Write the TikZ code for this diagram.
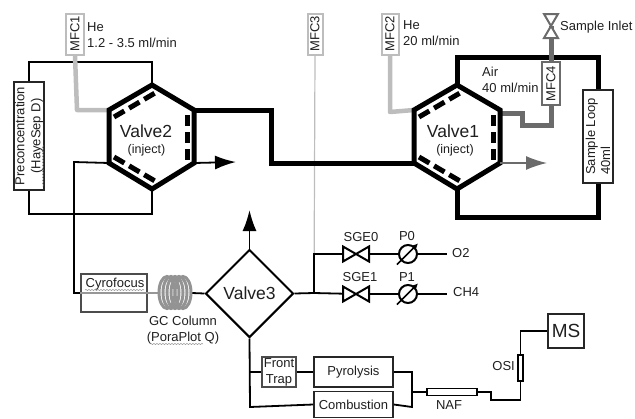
\documentclass[tikz,border=0pt]{standalone}
\usepackage{fontspec}
\setmainfont{Liberation Sans}
\usetikzlibrary{shapes.geometric,arrows.meta,decorations.pathmorphing}
\definecolor{lg}{gray}{0.74}
\definecolor{mg}{gray}{0.42}
\definecolor{tx}{gray}{0.12}
\tikzset{
  x=1pt,y=-1pt,
  every node/.style={inner sep=0pt,text=tx},
  lab/.style={font=\fontsize{13}{16}\selectfont,align=left},
  thin line/.style={draw=black,line width=1.8pt,line join=miter},
  thick line/.style={draw=black,line width=5pt,line join=miter},
  box/.style={draw=black!85,line width=1.6pt,fill=white,font=\fontsize{13}{15}\selectfont,align=center},
  mfc/.style={box,draw=lg,line width=2pt,rotate=90},
  hexa/.style={draw=black,line width=5pt,line join=miter,fill=white},
  dashline/.style={draw=black,line width=5pt,dash pattern=on 12pt off 5.5pt},
  dashlinev/.style={draw=black,line width=5pt,dash pattern=on 11pt off 6pt},
  bigtip/.style={-{Latex[length=21pt,width=14pt]}},
  squig/.style={draw=mg,line width=0.4pt,decorate,decoration={snake,amplitude=0.5pt,segment length=3pt}},
  valvename/.style={font=\fontsize{17.5}{20}\selectfont},
  inj/.style={font=\fontsize{12.5}{15}\selectfont},
}
\begin{document}
\begin{tikzpicture}
\useasboundingbox (0,0) rectangle (635,418);
% ---- hexagon corners
\coordinate (v2t) at (152,85); \coordinate (v2ur) at (194,110); \coordinate (v2lr) at (194,163);
\coordinate (v2b) at (152,189); \coordinate (v2ll) at (109,163); \coordinate (v2ul) at (109,110);
\coordinate (v1t) at (457,85); \coordinate (v1ur) at (500,110); \coordinate (v1lr) at (500,163);
\coordinate (v1b) at (457,189); \coordinate (v1ll) at (414,163); \coordinate (v1ul) at (414,110);
% ---- boxes
\node[mfc,minimum width=41pt,minimum height=18pt] (mfc1) at (75,34) {MFC1};
\node[mfc,minimum width=41pt,minimum height=15pt] (mfc3) at (315,34) {MFC3};
\node[mfc,minimum width=41pt,minimum height=17pt] (mfc2) at (390,34) {MFC2};
\node[box,rotate=90,minimum width=108pt,minimum height=30pt,font=\fontsize{13}{16}\selectfont] (pre) at (29,136) {Preconcentration\\(HayeSep D)};
\node[box,rotate=90,minimum width=93pt,minimum height=30pt,align=left] (loop) at (598,136.5) {Sample Loop\\40ml};
\node[box,draw=black!70,minimum width=66pt,minimum height=38pt] (cyro) at (114,293) {};
\node[box,draw=black!70,minimum width=34pt,minimum height=30pt,line width=1.8pt,font=\fontsize{13}{16}\selectfont] (trap) at (279,372) {Front\\Trap};
\node[box,minimum width=79pt,minimum height=30pt] (pyro) at (353.5,372) {Pyrolysis};
\node[box,minimum width=79pt,minimum height=26pt] (comb) at (353.5,404.5) {Combustion};
\node[box,minimum width=36pt,minimum height=34pt,font=\fontsize{19}{21}\selectfont] (ms) at (566,331) {MS};
\node[draw=black,line width=1.6pt,fill=white,minimum width=50pt,minimum height=7pt] (naf) at (452,392) {};
\node[draw=black,line width=1.6pt,fill=white,minimum width=5pt,minimum height=26pt] (osi) at (520.5,368) {};
\node[draw=black,line width=2pt,fill=white,diamond,aspect=1,minimum width=88pt,minimum height=88pt,valvename] (v3) at (249.5,293.5) {Valve3};
\coordinate (sge0) at (356,254); \coordinate (sge1) at (356,294);
\coordinate (p0) at (408,254); \coordinate (p1) at (408,294);
\coordinate (o2end) at (447,254); \coordinate (ch4end) at (447,294);
\coordinate (split) at (314,293);
\coordinate (inlet) at (551,26);
\coordinate (out2) at (236,162); \coordinate (out1) at (547,163); \coordinate (out3) at (249.5,210);
% ---- connectors behind shapes
\draw[draw=lg,line width=1.2pt] (mfc3.west) -- (split);
\draw[thin line] (v2t) -- (152,62) -- (29,62) -- (pre.east);
\draw[thin line] (pre.west) -- (29,214) -- (152,214) -- (v2b);
\draw[thin line] (v2ll) -- (74,162) -- (74,293) -- (cyro.west);
\draw[draw=lg,line width=4.5pt,line join=round] (mfc1.west) -- (77,110) -- (v2ul);
\draw[draw=lg,line width=4.5pt,line join=round] (mfc2.west) -- (390,112) -- (v1ul);
\draw[thick line] (v2ur) -- (271,110) -- (271,163) -- (v1ll);
\draw[thick line] (v1t) -- (457,57) -- (598,57) -- (loop.east);
\draw[thick line] (loop.west) -- (598,217) -- (457,217) -- (v1b);
\draw[draw=mg,line width=5pt,line join=miter] (v1ur) ++(0,3) -- (522,113) -- (522,125) -- (551,125) -- (551,105);
\draw[draw=mg,line width=5pt] (551,62) -- (inlet);
\node[mfc,draw=mg,minimum width=43pt,minimum height=18pt] (mfc4) at (551,83.5) {MFC4};
% ---- hexagons
\draw[hexa] (v2t) -- (v2ur) -- (v2lr) -- (v2b) -- (v2ll) -- (v2ul) -- cycle;
\draw[hexa] (v1t) -- (v1ur) -- (v1lr) -- (v1b) -- (v1ll) -- (v1ul) -- cycle;
\draw[dashline] (114,117) -- (155,93);
\draw[dashlinev] (187,115) -- (187,160);
\draw[dashline] (114,157) -- (155,181);
\draw[dashline] (419,117) -- (460,93);
\draw[dashlinev] (493,115) -- (493,160);
\draw[dashline] (419,157) -- (460,181);
\node[valvename] (v2name) at (146,131) {Valve2};
\node[inj] (v2inj) at (146.5,150) {(inject)};
\node[valvename] (v1name) at (453,131) {Valve1};
\node[inj] (v1inj) at (455,150) {(inject)};
% ---- arrows
\draw[thin line,bigtip] (v2lr) -- (out2);
\draw[draw=mg,line width=1.4pt,-{Latex[length=21pt,width=14pt]}] (v1lr) -- (out1);
\draw[thin line,bigtip] (v3.north) -- (out3);
% ---- column
\draw[draw=lg!80!black,line width=1.2pt] (cyro.west) -- (158,293);
\draw[thin line] (192,293) -- (v3.west);
\foreach \cx in {167,171,175,179,183}
  \draw[draw=gray!85,line width=3pt] (\cx,292.5) ellipse (8 and 16);
\draw[thin line] (v3.south) -- (250,407) -- (comb.west);
\draw[thin line] (250,372) -- (trap.west);
\draw[thin line] (trap.east) -- (pyro.west);
\draw[thin line] (pyro.east) -- (412,372) -- (412,407) -- (comb.east);
\draw[thin line] (412,392) -- (naf.west);
\draw[thin line] (naf.east) -- (491,392) -- (491,400) -- (520.5,400) -- (osi.south);
\draw[thin line] (osi.north) -- (520.5,331) -- (ms.west);
% ---- gas lines
\draw[thin line] (v3.east) -- (split);
\draw[thin line] (split) -- (314,254) -- (sge0);
\draw[thin line] (split) -- (sge1);
\draw[thin line] (sge0) -- (p0) -- (o2end);
\draw[thin line] (sge1) -- (p1) -- (ch4end);
\foreach \c in {sge0,sge1}{
  \draw[draw=black,line width=2pt,fill=white,line join=miter]
    ([shift={(-13,-7.5)}]\c) -- ([shift={(13,7.5)}]\c) -- ([shift={(13,-7.5)}]\c) -- ([shift={(-13,7.5)}]\c) -- cycle;
}
\foreach \c in {p0,p1}{
  \draw[draw=black,line width=2pt,fill=white] (\c) circle (9);
  \draw[draw=black,line width=1.5pt,-{Latex[length=5pt,width=5pt]}] ([shift={(-11,10.5)}]\c) -- ([shift={(10,-10.5)}]\c);
}
% ---- sample inlet
\draw[draw=mg,line width=2pt,fill=white,line join=miter]
  (544,14) -- (558,14) -- (544,38) -- (558,38) -- cycle;
% ---- labels
\node[lab,anchor=west] (l1) at (87,35) {He\\1.2 - 3.5 ml/min};
\node[lab,anchor=west] (l2) at (403,33) {He\\20 ml/min};
\node[lab,anchor=west] (l3) at (482,80) {Air\\40 ml/min};
\node[lab,anchor=west] (l4) at (560,27) {Sample Inlet};
\node[lab] (l5) at (115,284) {Cyrofocus};
\node[lab,align=center] (l6) at (183,330) {GC Column\\(PoraPlot Q)};
\node[lab] (l7) at (361,237) {SGE0};
\node[lab] (l8) at (407,236) {P0};
\node[lab] (l9) at (360,277) {SGE1};
\node[lab] (l10) at (407,277) {P1};
\node[lab,anchor=west] (l11) at (452,253) {O2};
\node[lab,anchor=west] (l12) at (453,292) {CH4};
\node[lab] (l13) at (449,405) {NAF};
\node[lab,anchor=east] (l14) at (515,366) {OSI};
% ---- spell-check squiggles
\draw[squig] (85,290) -- (144,290);
\draw[squig] (150,344) -- (203,344);
\draw[squig] (43,145) -- (43,187);
\end{tikzpicture}
\end{document}
